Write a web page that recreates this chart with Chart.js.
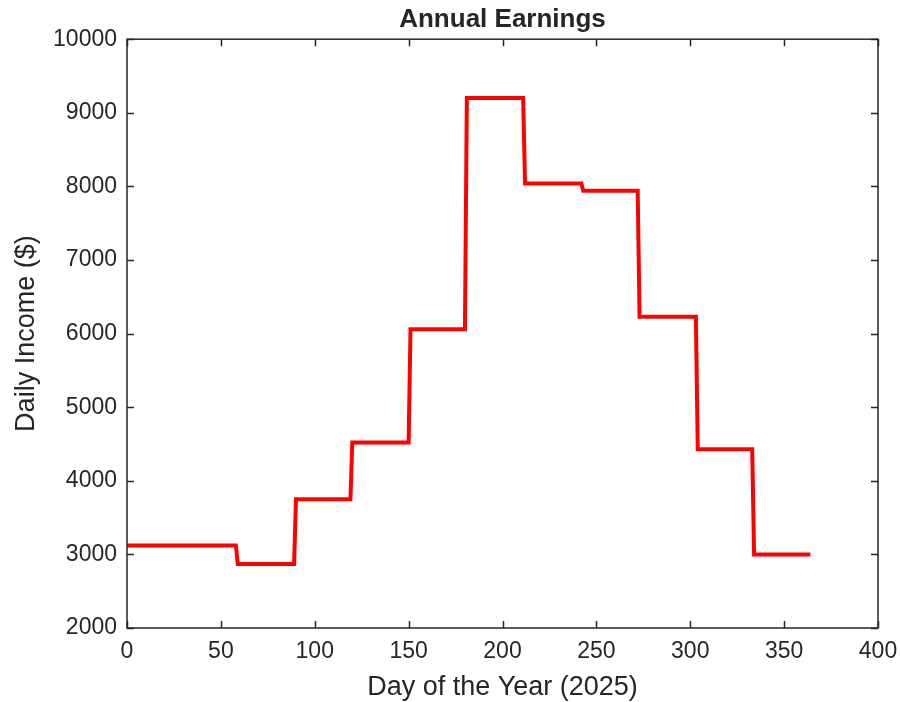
<!DOCTYPE html>
<html>
<head>
<meta charset="utf-8">
<script src="https://cdn.jsdelivr.net/npm/chart.js@4/dist/chart.umd.min.js"></script>
<style>
  html, body { margin: 0; padding: 0; background: #ffffff; }
  #wrap { width: 900px; height: 702px; position: relative; }
</style>
</head>
<body>
<div id="wrap"><canvas id="c" width="900" height="702"></canvas></div>
<script>
// Data
const months = ["Jan","Feb","Mar","Apr","May","Jun","Jul","Aug","Sep","Oct","Nov","Dec"];
const monthDays = [31, 28, 31, 30, 31, 30, 31, 31, 30, 31, 30, 31];
const monthIncome = [3120, 3120, 2870, 3750, 4520, 6060, 9200, 8040, 7940, 6230, 4430, 3000];
const xTicks = [0, 50, 100, 150, 200, 250, 300, 350, 400];
const yTicks = [2000, 3000, 4000, 5000, 6000, 7000, 8000, 9000, 10000];

// Daily series: each day of a month carries that month's daily income (days 0..364)
const points = [];
let day = 0;
months.forEach((m, i) => {
  for (let d = 0; d < monthDays[i]; d++) {
    points.push({ x: day, y: monthIncome[i] });
    day++;
  }
});

const TXT = '#262626';
const FONT = "'Liberation Sans', Arial, sans-serif";

const framePlugin = {
  id: 'frame',
  afterDatasetsDraw(chart) {
    const { ctx, chartArea: a, scales } = chart;
    ctx.save();
    ctx.strokeStyle = TXT;
    ctx.lineWidth = 1.5;
    const tl = 7;
    ctx.beginPath();
    scales.x.ticks.forEach(t => {
      const px = Math.round(scales.x.getPixelForValue(t.value)) + 0.5;
      ctx.moveTo(px, a.bottom); ctx.lineTo(px, a.bottom - tl);
      ctx.moveTo(px, a.top); ctx.lineTo(px, a.top + tl);
    });
    scales.y.ticks.forEach(t => {
      const py = Math.round(scales.y.getPixelForValue(t.value)) + 0.5;
      ctx.moveTo(a.left, py); ctx.lineTo(a.left + tl, py);
      ctx.moveTo(a.right, py); ctx.lineTo(a.right - tl, py);
    });
    ctx.stroke();
    ctx.strokeRect(a.left, a.top, a.right - a.left, a.bottom - a.top);
    ctx.restore();
  }
};

function noPad(s) { s.paddingLeft = 0; s.paddingRight = 0; s.paddingTop = 0; s.paddingBottom = 0; }

new Chart(document.getElementById('c'), {
  type: 'line',
  data: {
    datasets: [{
      label: 'Daily Income',
      data: points,
      borderColor: '#ff0000',
      borderWidth: 4,
      pointRadius: 0,
      tension: 0,
      fill: false
    }]
  },
  options: {
    responsive: false,
    animation: false,
    layout: { padding: { left: 0, right: 22, top: 0, bottom: 0 } },
    plugins: {
      legend: { display: false },
      tooltip: { enabled: false },
      title: {
        display: true,
        fullSize: false,
        text: 'Annual Earnings',
        color: TXT,
        font: { family: FONT, size: 26, weight: 'bold', lineHeight: 1.2 },
        padding: { top: 4, bottom: 4 }
      }
    },
    scales: {
      x: {
        type: 'linear',
        min: 0, max: 400,
        afterBuildTicks(s) { s.ticks = xTicks.map(v => ({ value: v })); },
        afterFit(s) { s.height = 74; noPad(s); },
        grid: { display: false, drawTicks: false },
        border: { display: false },
        ticks: { color: TXT, font: { family: FONT, size: 23 }, padding: 10, maxRotation: 0,
                 callback: v => String(v) },
        title: {
          display: true,
          text: 'Day of the Year (2025)',
          color: TXT,
          font: { family: FONT, size: 27 },
          padding: { top: 0, bottom: -2 }
        }
      },
      y: {
        type: 'linear',
        min: 2000, max: 10000,
        afterBuildTicks(s) { s.ticks = yTicks.map(v => ({ value: v })); },
        afterFit(s) { s.width = 127; noPad(s); },
        grid: { display: false, drawTicks: false },
        border: { display: false },
        ticks: { color: TXT, font: { family: FONT, size: 23 }, padding: 10,
                 callback: v => String(v) },
        title: {
          display: true,
          text: 'Daily Income ($)',
          color: TXT,
          font: { family: FONT, size: 27 },
          padding: { top: 10, bottom: 0 }
        }
      }
    }
  },
  plugins: [framePlugin]
});
</script>
</body>
</html>
